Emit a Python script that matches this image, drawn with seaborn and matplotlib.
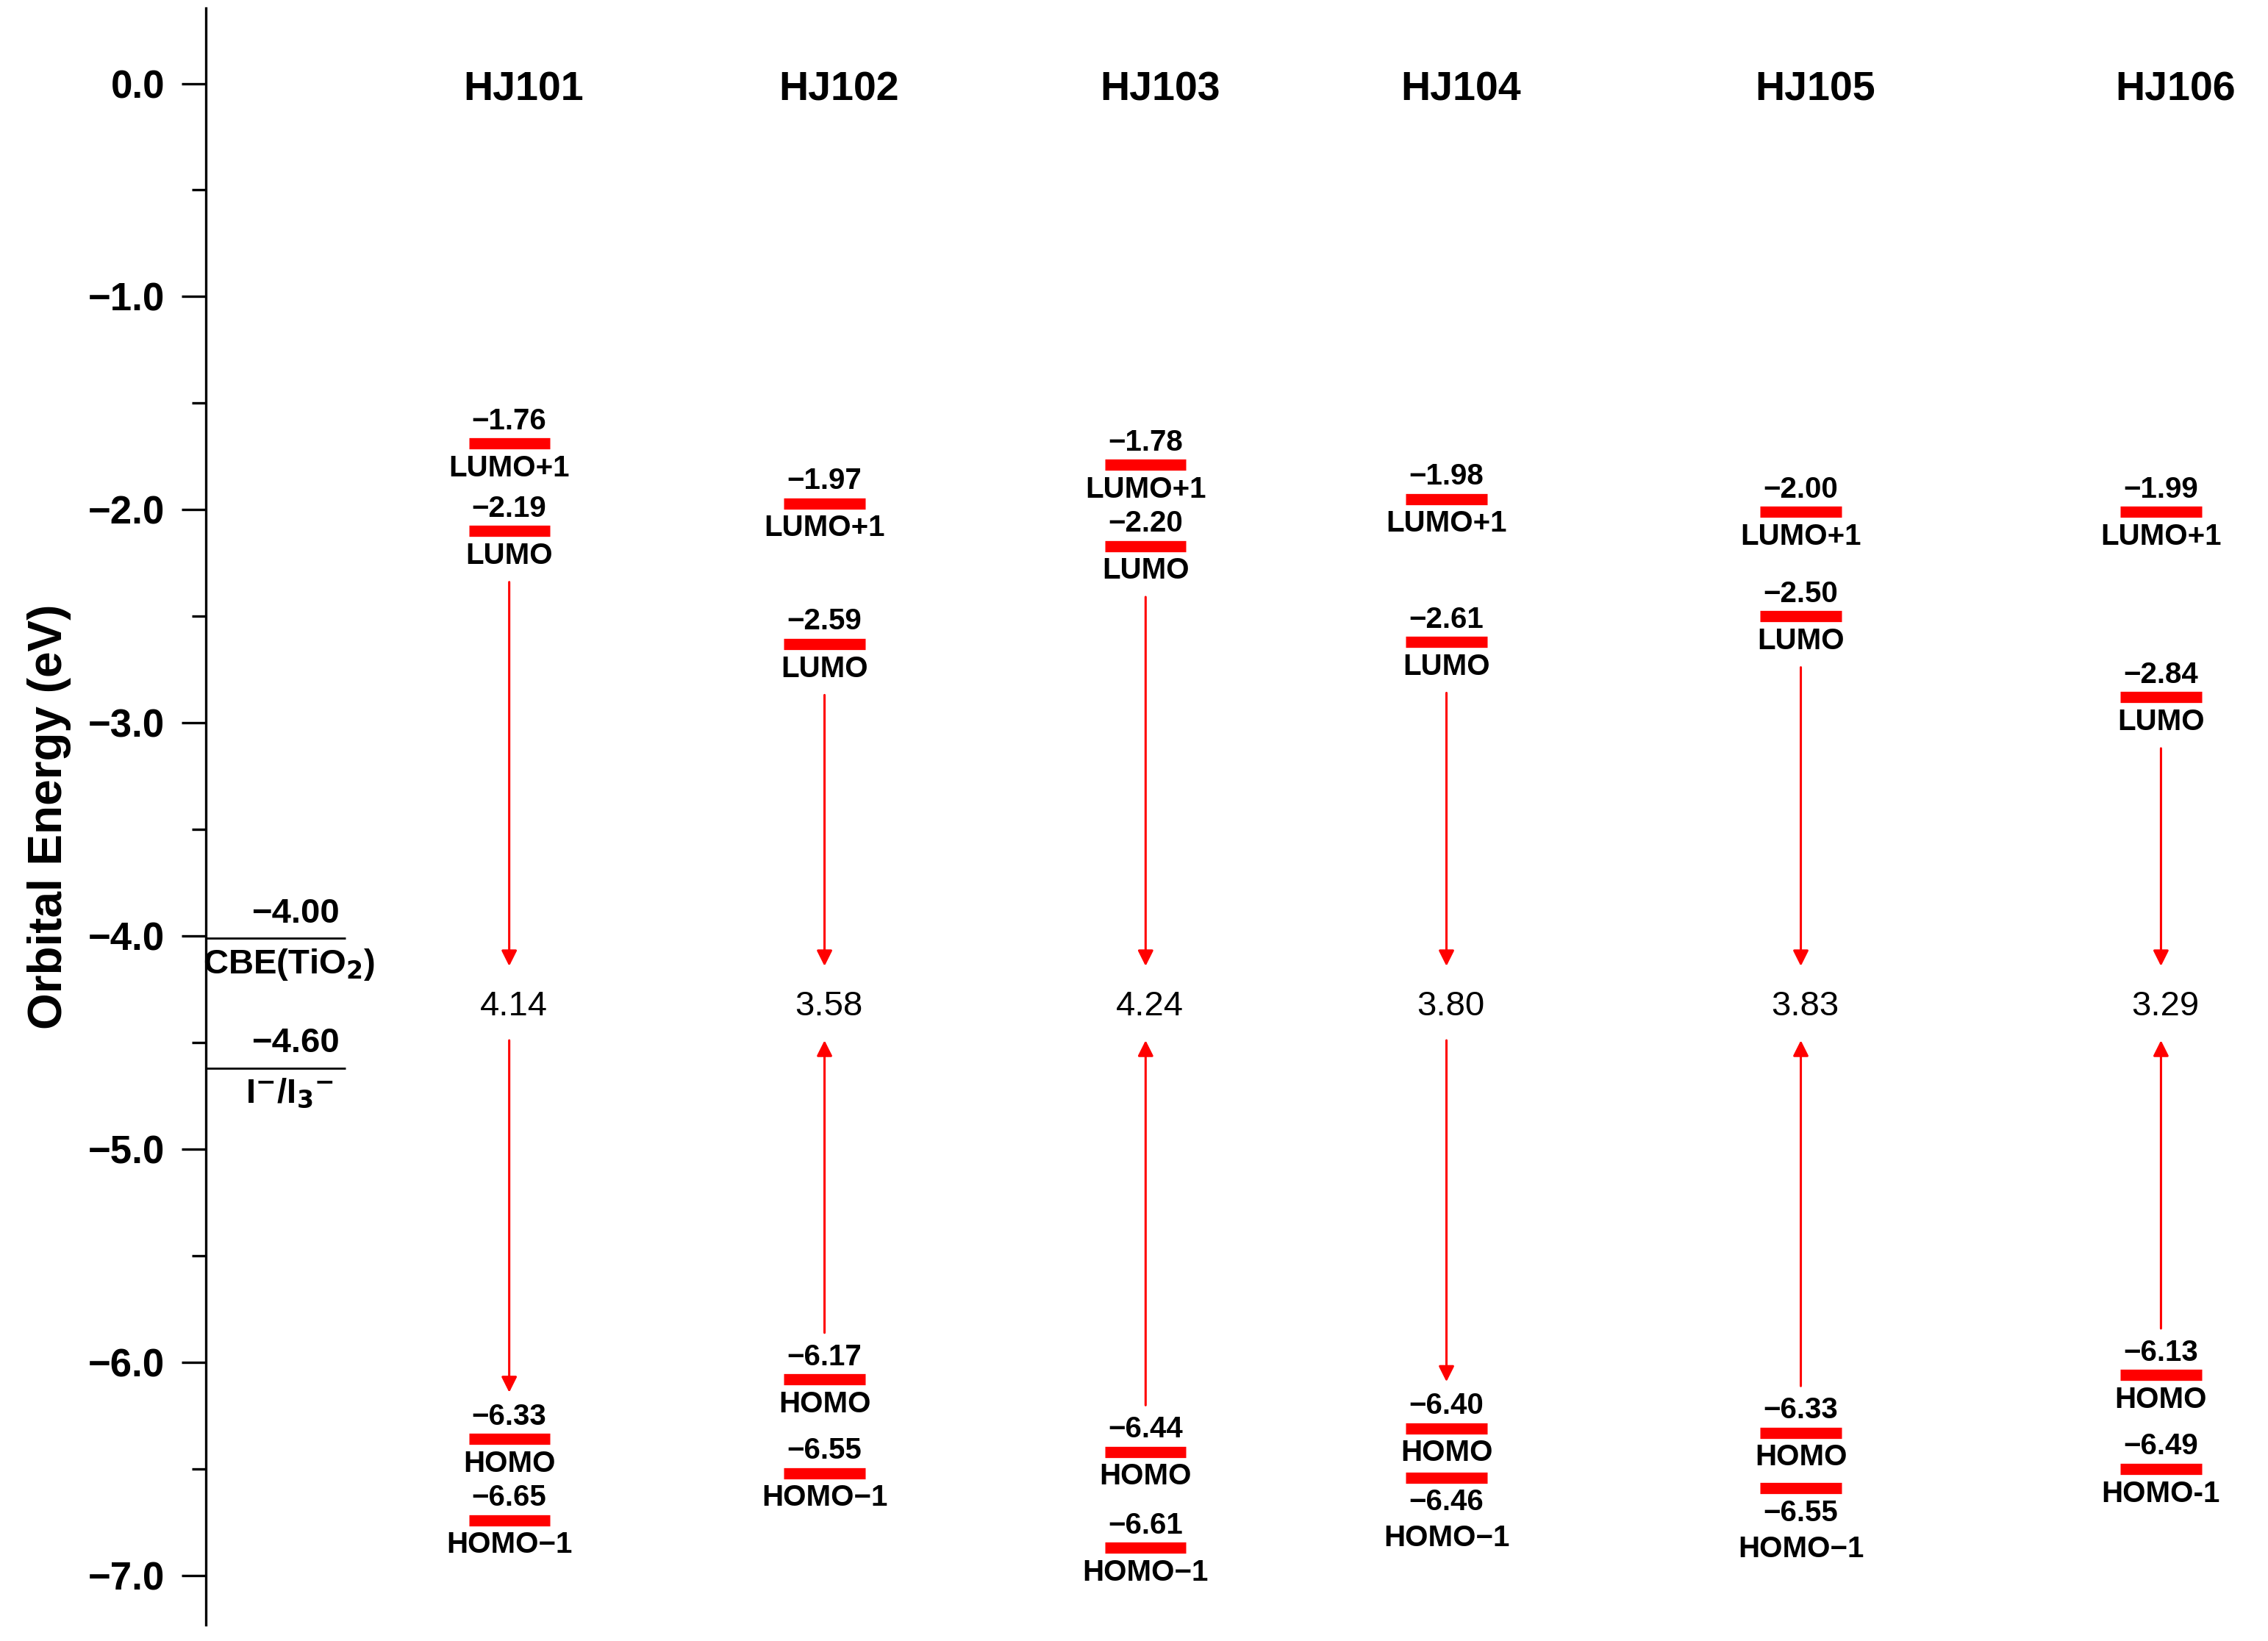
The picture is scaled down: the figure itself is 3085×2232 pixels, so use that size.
import matplotlib
matplotlib.use("Agg")
import matplotlib.pyplot as plt
import numpy as np
import seaborn as sns

sns.set_style("ticks")
plt.rcParams['font.family'] = ['Arial', 'Liberation Sans', 'DejaVu Sans']
plt.rcParams['text.color'] = 'black'
plt.rcParams['axes.labelcolor'] = 'black'
plt.rcParams['ytick.color'] = 'black'
plt.rcParams['axes.edgecolor'] = 'black'

dyes = ['HJ101', 'HJ102', 'HJ103', 'HJ104', 'HJ105', 'HJ106']
col_x = [2.10, 4.28, 6.50, 8.58, 11.03, 13.52]
level_names = ['LUMO+1', 'LUMO', 'HOMO', 'HOMO\u22121']
# where the bars sit in the picture
bar_pos = [[-1.69, -2.10, -6.36, -6.74],
           [-1.97, -2.63, -6.08, -6.52],
           [-1.79, -2.17, -6.42, -6.87],
           [-1.95, -2.62, -6.31, -6.54],
           [-2.01, -2.50, -6.33, -6.59],
           [-2.01, -2.88, -6.06, -6.50]]
# printed values
values = [['\u22121.76', '\u22122.19', '\u22126.33', '\u22126.65'],
          ['\u22121.97', '\u22122.59', '\u22126.17', '\u22126.55'],
          ['\u22121.78', '\u22122.20', '\u22126.44', '\u22126.61'],
          ['\u22121.98', '\u22122.61', '\u22126.40', '\u22126.46'],
          ['\u22122.00', '\u22122.50', '\u22126.33', '\u22126.55'],
          ['\u22121.99', '\u22122.84', '\u22126.13', '\u22126.49']]
gaps = ['4.14', '3.58', '4.24', '3.80', '3.83', '3.29']
lower_up = [False, True, True, False, True, True]
value_below_homo1 = [False, False, False, True, True, False]
homo1_text = ['HOMO\u22121'] * 5 + ['HOMO-1']

fig = plt.figure(figsize=(15.425, 11.16), dpi=200)
ax = fig.add_axes([0.0906, 0.01, 0.9094, 0.985])
ax.set_xlim(0, 14.26)
ax.set_ylim(-7.23, 0.353)

red = '#ff0000'
for i, d in enumerate(dyes):
    x = col_x[i]
    ax.text(x + 0.1, -0.03, d, ha='center', va='center', fontsize=20, fontweight='bold')
    ax.hlines(bar_pos[i], x - 0.28, x + 0.28, color=red, lw=5.5)
    for j, y in enumerate(bar_pos[i]):
        name = homo1_text[i] if j == 3 else level_names[j]
        if j == 3 and value_below_homo1[i]:
            ax.text(x, y - 0.05, values[i][j], ha='center', va='top', fontsize=14.5, fontweight='bold')
            ax.text(x, y - 0.22, name, ha='center', va='top', fontsize=14.5, fontweight='bold')
        else:
            ax.text(x, y + 0.04, values[i][j], ha='center', va='bottom', fontsize=14.5, fontweight='bold')
            ax.text(x, y - 0.05, name, ha='center', va='top', fontsize=14.5, fontweight='bold')
    gy = -4.33
    ax.text(x + 0.03, gy, gaps[i], ha='center', va='center', fontsize=17)
    lumo = bar_pos[i][1]
    homo = bar_pos[i][2]
    ap = dict(arrowstyle='-|>', color=red, lw=1.1, mutation_scale=16)
    ax.annotate('', xy=(x, gy + 0.17), xytext=(x, lumo - 0.22), arrowprops=ap)
    if lower_up[i]:
        ax.annotate('', xy=(x, gy - 0.14), xytext=(x, homo + 0.2), arrowprops=ap)
    else:
        ax.annotate('', xy=(x, homo + 0.2), xytext=(x, gy - 0.14), arrowprops=ap)

# reference levels
ref_y = [-4.01, -4.62]
ref_val = ['\u22124.00', '\u22124.60']
ref_name = ['CBE(TiO$_\\mathbf{2}$)', 'I$^{\\mathbf{-}}$/I$_\\mathbf{3}$$^{\\mathbf{-}}$']
ax.hlines(ref_y, 0, 0.97, color='black', lw=1.0)
for y, v, n in zip(ref_y, ref_val, ref_name):
    ax.text(0.62, y + 0.04, v, ha='center', va='bottom', fontsize=17, fontweight='bold')
    ax.text(0.58, y - 0.04, n, ha='center', va='top', fontsize=17, fontweight='bold')

ax.set_yticks(np.arange(0, -7.5, -1.0))
ax.set_yticklabels([f'{t:.1f}'.replace('-', '\u2212') for t in np.arange(0, -7.5, -1.0)],
                   fontsize=19, fontweight='bold')
ax.set_yticks(np.arange(-0.5, -7.2, -1.0), minor=True)
ax.tick_params(axis='y', which='major', length=12, width=1.2, pad=8)
ax.tick_params(axis='y', which='minor', length=7, width=1.2)
ax.set_xticks([])
ax.set_ylabel('Orbital Energy (eV)', fontsize=23, fontweight='bold', labelpad=8)
sns.despine(ax=ax, top=True, right=True, bottom=True)
ax.spines['left'].set_linewidth(1.2)

fig.savefig('out.png', dpi=200)
